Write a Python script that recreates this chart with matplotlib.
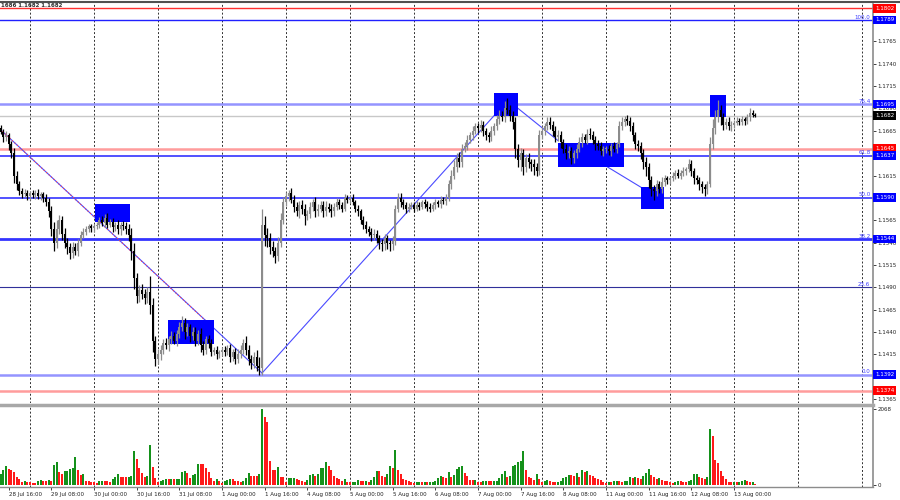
import numpy as np
import pandas as pd
import matplotlib
matplotlib.use('Agg')
import matplotlib.pyplot as plt
import matplotlib.transforms as mtrans
from matplotlib.lines import Line2D

# EURUSD H1, prices in pips above 1.1000, one row per trading day
first_open = 668
close_pips = [
    664, 658, 660, 650, 640, 615, 605, 598, 594, 596, 592,
    595, 593, 596, 592, 594, 590, 585, 575, 555, 540, 555, 565, 550, 540, 535, 528, 535, 530, 540, 548, 552, 555, 558, 556,
    558, 560, 565, 562, 568, 560, 563, 557, 560, 555, 560, 558, 555, 548, 530, 500, 480, 487, 482, 478, 485, 470, 430, 410,
    415, 420, 428, 425, 432, 435, 430, 438, 445, 450, 440, 445, 435, 440, 430, 438, 425, 420, 432, 428, 418, 420, 415, 417,
    420, 418, 422, 412, 418, 410, 415, 420, 428, 420, 410, 405, 412, 402, 400, 560, 548, 545, 535, 530, 525, 540, 565, 585,
    592, 595, 588, 580, 575, 582, 578, 570, 572, 580, 585, 575, 578, 582, 575, 580, 578, 575, 580, 585, 582, 578, 590, 588,
    590, 585, 578, 575, 565, 560, 555, 552, 548, 550, 545, 540, 538, 545, 540, 538, 542, 578, 590, 585, 582, 578, 580, 582,
    578, 582, 580, 585, 583, 580, 578, 582, 585, 583, 588, 586, 590, 605, 615, 625, 635, 630, 645, 648, 655, 660, 665, 670,
    668, 672, 665, 660, 658, 665, 670, 678, 682, 680, 690, 688, 682, 675, 645, 632, 640, 625, 635, 630, 628, 625, 620, 660,
    665, 670, 675, 672, 665, 658, 660, 652, 645, 640, 642, 635, 640, 645, 652, 658, 655, 662, 660, 655, 650, 648, 642, 645,
    645, 642, 648, 645, 650, 670, 675, 678, 676, 670, 660, 650, 648, 640, 630, 625, 610, 600, 598, 605, 600, 608, 612, 610,
    612, 615, 618, 615, 618, 620, 622, 628, 620, 612, 610, 605, 602, 600, 605, 650, 668, 680, 688, 680, 672, 675, 670, 672,
    674, 676, 675, 678, 676, 680, 685, 683, 682,
]
up_wick = [
    4, 3, 5, 3, 4, 6, 5, 4, 3, 4, 3,
    3, 4, 3, 4, 3, 3, 4, 5, 6, 8, 10, 6, 5, 6, 5, 4, 6, 5, 4, 5, 4, 3, 3, 3,
    3, 3, 4, 5, 4, 5, 3, 4, 3, 5, 3, 4, 5, 6, 8, 10, 6, 5, 7, 6, 5, 18, 8, 6,
    6, 5, 4, 5, 4, 6, 5, 4, 6, 8, 6, 5, 4, 6, 5, 4, 6, 5, 4, 5, 4, 3, 4, 3,
    3, 4, 3, 5, 3, 4, 6, 5, 4, 7, 5, 4, 6, 8, 10, 18, 10, 8, 6, 7, 5, 6, 8, 6,
    5, 4, 6, 5, 5, 4, 6, 5, 4, 5, 4, 6, 5, 4, 5, 6, 4, 5, 4, 5, 4, 3, 4, 3,
    3, 4, 3, 4, 3, 5, 4, 3, 4, 5, 4, 3, 4, 5, 4, 3, 5, 4, 6, 5, 4, 3, 4, 3,
    3, 4, 3, 3, 4, 3, 4, 3, 4, 3, 4, 3, 4, 5, 6, 7, 5, 6, 5, 4, 5, 4, 5, 4,
    4, 5, 4, 3, 4, 5, 4, 5, 6, 5, 8, 12, 6, 5, 6, 5, 6, 5, 4, 5, 4, 5, 4, 6,
    5, 4, 6, 5, 4, 5, 6, 5, 4, 5, 6, 5, 4, 5, 6, 5, 4, 5, 6, 5, 4, 5, 4, 3,
    3, 4, 3, 4, 3, 6, 5, 4, 5, 4, 5, 4, 5, 4, 5, 6, 4, 5, 4, 5, 4, 5, 4, 3,
    3, 4, 3, 4, 3, 4, 3, 5, 4, 3, 4, 3, 4, 3, 4, 8, 10, 8, 12, 6, 5, 4, 5, 4,
    3, 4, 3, 4, 3, 4, 5, 3, 2,
]
dn_wick = [
    3, 5, 4, 6, 5, 8, 6, 5, 4, 3, 4,
    4, 3, 4, 3, 4, 5, 4, 6, 8, 10, 6, 5, 7, 6, 8, 6, 5, 4, 5, 4, 3, 4, 3, 4,
    4, 3, 4, 3, 5, 4, 3, 5, 4, 5, 6, 4, 5, 6, 10, 12, 8, 6, 5, 7, 6, 10, 12, 8,
    6, 6, 5, 4, 6, 5, 4, 6, 5, 4, 8, 5, 6, 4, 6, 5, 7, 6, 5, 6, 5, 4, 5, 4,
    4, 5, 4, 6, 5, 6, 5, 4, 5, 6, 7, 6, 5, 6, 8, 8, 12, 10, 8, 6, 8, 6, 5, 4,
    4, 5, 4, 6, 5, 8, 6, 10, 5, 4, 5, 6, 5, 4, 6, 5, 4, 6, 5, 4, 5, 4, 3, 4,
    4, 3, 4, 5, 4, 5, 4, 5, 6, 5, 6, 7, 8, 6, 7, 8, 6, 5, 4, 5, 4, 5, 4, 3,
    4, 3, 4, 3, 4, 5, 4, 3, 4, 3, 4, 3, 4, 3, 5, 4, 6, 5, 6, 4, 5, 4, 5, 4,
    5, 4, 6, 5, 6, 4, 5, 4, 5, 4, 5, 4, 6, 8, 10, 8, 12, 9, 6, 7, 8, 9, 6, 4,
    4, 5, 4, 5, 6, 5, 4, 6, 5, 6, 5, 7, 6, 5, 4, 5, 4, 5, 4, 5, 6, 5, 4, 5,
    5, 4, 5, 4, 5, 3, 4, 5, 4, 5, 6, 5, 6, 7, 8, 10, 9, 8, 10, 6, 5, 4, 5, 4,
    4, 3, 4, 3, 4, 3, 4, 3, 5, 6, 5, 6, 7, 8, 6, 3, 5, 6, 5, 8, 6, 5, 4, 5,
    4, 3, 4, 3, 4, 3, 4, 3, 2,
]
volume = [
    304, 396, 506, 432, 396, 340, 212, 175, 90, 100, 80,
    80, 65, 60, 120, 125, 120, 115, 125, 95, 552, 616, 340, 304, 368, 386, 432, 460, 764, 414, 276, 294, 110, 105, 92,
    74, 64, 110, 120, 110, 105, 92, 156, 230, 304, 230, 225, 212, 230, 248, 920, 718, 460, 322, 230, 240, 1086, 478, 184,
    92, 100, 140, 156, 150, 160, 150, 158, 165, 340, 386, 322, 202, 276, 294, 580, 570, 560, 460, 340, 202, 110, 156, 110,
    64, 110, 138, 175, 156, 120, 110, 92, 100, 202, 322, 248, 245, 240, 304, 2068, 1858, 1720, 644, 414, 405, 478, 230, 212,
    92, 180, 190, 202, 156, 138, 120, 92, 130, 285, 290, 248, 304, 460, 470, 635, 506, 414, 248, 202, 156, 120, 166, 92,
    74, 83, 92, 138, 110, 101, 110, 92, 138, 230, 386, 380, 248, 212, 304, 506, 460, 948, 414, 294, 166, 138, 110, 83,
    64, 70, 83, 74, 83, 74, 83, 90, 95, 202, 248, 212, 184, 340, 230, 276, 432, 488, 506, 322, 248, 129, 125, 135,
    83, 74, 101, 120, 110, 101, 110, 115, 202, 304, 386, 230, 248, 506, 534, 616, 644, 938, 414, 212, 200, 138, 304, 156,
    92, 101, 129, 110, 92, 74, 92, 110, 184, 212, 276, 266, 250, 331, 230, 405, 340, 386, 276, 248, 184, 156, 129, 92,
    64, 92, 85, 101, 105, 100, 83, 101, 120, 212, 202, 215, 202, 175, 258, 313, 432, 276, 212, 175, 185, 138, 120, 101,
    83, 64, 83, 120, 101, 92, 90, 95, 138, 304, 310, 212, 193, 175, 230, 1536, 1334, 672, 598, 368, 248, 156, 92, 83,
    92, 83, 92, 120, 125, 110, 83, 90, 37,
]

fib_names = ['100.0', '76.4', '61.8', '50.0', '38.2', '23.6', '0.0']
fib_prices = [1.1789, 1.1695, 1.1637, 1.1590, 1.1544, 1.1490, 1.1392]
red_prices = [1.1802, 1.1645, 1.1374]
last_price = 1.1682
header = '1686 1.1682 1.1682'
scale_labels = ['1.1365', '1.1415', '1.1440', '1.1465', '1.1490', '1.1515', '1.1540',
                '1.1565', '1.1615', '1.1665', '1.1690', '1.1715', '1.1740', '1.1765']

# blue zones: (first bar, last bar, low price, high price)
zones = [(35.4, 48.5, 1.1563, 1.1583), (62.7, 80.0, 1.1427, 1.1453),
         (185.0, 194.0, 1.1682, 1.1707), (209.0, 233.7, 1.1625, 1.1651),
         (240.1, 248.7, 1.1578, 1.1602), (266.0, 272.0, 1.1681, 1.1705)]
# trend lines: (bar0, price0, bar1, price1)
trend_lines = [(-0.3, 1.1667, 98.0, 1.1394), (98.0, 1.1394, 185.0, 1.1682),
               (193.6, 1.1691, 209.0, 1.1654), (227.3, 1.1625, 240.0, 1.1602)]
red_dotted = (-0.3, 1.1667, 79.2, 1.1446)

close = 1.1 + np.array(close_pips) / 10000
opn = np.r_[1.1 + first_open / 10000, close[:-1]]
high = np.maximum(opn, close) + np.array(up_wick) / 10000
low = np.minimum(opn, close) - np.array(dn_wick) / 10000
vol = np.array(volume)
n = len(close)
idx = np.arange(n)

hours = pd.date_range('2025-07-28 13:00', '2025-08-15 23:00', freq='h')
hours = hours[hours.dayofweek < 5]

plt.rcParams['font.family'] = 'DejaVu Sans'
fig = plt.figure(figsize=(9, 5), dpi=100)
ax = fig.add_axes([0, 97 / 500, 873 / 900, 399 / 500])
vax = fig.add_axes([0, 13 / 500, 873 / 900, 81 / 500], sharex=ax)

xmin = -0.26
xmax = xmin + 873 / 2.667
ax.set_xlim(xmin, xmax)
ax.set_ylim(1.13605, 1.18069)
vax.set_ylim(-55, 2151)

# day separators
for i, t in enumerate(hours):
    if t.hour == 0 and i < xmax:
        for a in (ax, vax):
            a.axvline(i, color='#303030', lw=0.7, ls=(0, (2, 2)), zorder=0)

# horizontal levels
line_style = {1.1789: ('#2020ff', 1.0), 1.1695: ('#9494ff', 1.8), 1.1637: ('#3434ff', 1.2),
              1.1590: ('#3434ff', 1.2), 1.1544: ('#3434ff', 2.0), 1.1490: ('#30309a', 0.8),
              1.1392: ('#9494ff', 1.8)}
for p in fib_prices:
    c, w = line_style[p]
    ax.axhline(p, color=c, lw=w, zorder=1)
for p in red_prices:
    w = 1.0 if p == 1.1802 else 1.8
    c = '#ff3030' if p == 1.1802 else '#ff9c9c'
    ax.axhline(p, color=c, lw=w, zorder=1)
ax.axhline(last_price, color='#c8c8c8', lw=1.0, zorder=1)

tr = mtrans.blended_transform_factory(ax.transAxes, ax.transData)
for name, p in zip(fib_names, fib_prices):
    ax.text(0.997, p + 0.00005, name, transform=tr, ha='right', va='bottom',
            fontsize=4, color='#3a3aff')

for x0, p0, x1, p1 in trend_lines:
    ax.plot([x0, x1], [p0, p1], color='#4a4aff', lw=0.8, zorder=2)
x0, p0, x1, p1 = red_dotted
ax.plot([x0, x1], [p0, p1], color='#ff4040', lw=0.8, ls=(0, (1, 2)), zorder=2)

for b0, b1, p0, p1 in zones:
    ax.add_patch(plt.Rectangle((b0, p0), b1 - b0, p1 - p0, fc='#0000ff', ec='none', zorder=3))

# candles
bull = close >= opn
ccol = np.where(bull, '#8c8c8c', '#000000')
ax.vlines(idx, low, high, colors=ccol, lw=0.9, zorder=4)
body = np.maximum(np.abs(close - opn), 0.0001)
ax.bar(idx, body, width=0.75, bottom=np.minimum(opn, close), color=ccol, zorder=4)

# volumes: green when above previous bar
vup = np.r_[True, vol[1:] > vol[:-1]]
vax.bar(idx, vol, width=0.75, color=np.where(vup, '#14911a', '#ff1a1a'), zorder=2)

# axes cosmetics
for a in (ax, vax):
    for s in ('left', 'top', 'bottom'):
        a.spines[s].set_visible(False)
    a.spines['right'].set_color('#8c8c8c')
    a.spines['right'].set_linewidth(1.2)
    a.yaxis.tick_right()
    a.tick_params(axis='y', length=2, width=0.6, pad=1, labelsize=4, colors='#202020')

ax.set_yticks([float(s) for s in scale_labels])
ax.set_yticklabels(scale_labels)
ax.tick_params(axis='x', bottom=False, labelbottom=False)

vax.set_yticks([0, 2068])
vax.set_yticklabels(['0', '2068'])
xt = [i for i, t in enumerate(hours[:n]) if (i - 3) % 16 == 0]
vax.set_xticks(xt)
vax.set_xticklabels(['%d %s' % (hours[i].day, hours[i].strftime('%b %H:%M')) for i in xt],
                    ha='left', fontsize=4, color='#202020')
vax.tick_params(axis='x', length=2, width=0.6, pad=1.5, colors='#202020')

# price boxes on the right scale
box_col = {1.1802: '#ff0000', 1.1789: '#0000ff', 1.1695: '#0000ff', 1.1682: '#000000',
           1.1645: '#ff0000', 1.1637: '#0000ff', 1.1590: '#0000ff', 1.1544: '#0000ff',
           1.1392: '#0000ff', 1.1374: '#ff0000'}
for p, c in box_col.items():
    ax.text(1.0025, p, '%.4f' % p, transform=tr, ha='left', va='center', fontsize=4,
            color='white', zorder=10, clip_on=False,
            bbox=dict(boxstyle='square,pad=0.35', fc=c, ec='none'))

# frame lines
fig.add_artist(Line2D([0, 1], [1 - 1.5 / 500] * 2, color='#505050', lw=1.5))
fig.add_artist(Line2D([0, 873 / 900], [1 - 404.5 / 500] * 2, color='#a8a8a8', lw=2.5))
fig.add_artist(Line2D([0, 873 / 900], [1 - 487 / 500] * 2, color='#8c8c8c', lw=1.0))
fig.text(0.001, 1 - 3 / 500, header, fontsize=4, fontweight='bold', va='top', ha='left',
         color='#303030')

fig.savefig('out.png', dpi=100, facecolor='white')
